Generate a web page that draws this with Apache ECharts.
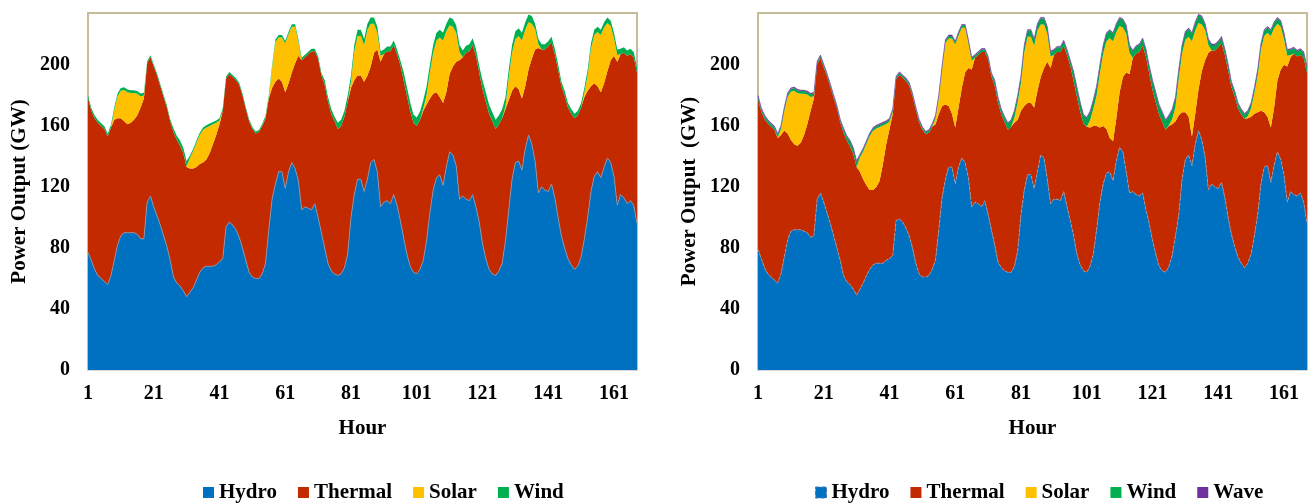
<!DOCTYPE html>
<html>
<head>
<meta charset="utf-8">
<script src="https://cdn.jsdelivr.net/npm/echarts@6/dist/echarts.min.js"></script>
<style>
html,body{margin:0;padding:0;background:#fff;}
#chart{width:1311px;height:503px;}
</style>
</head>
<body>
<div id="chart"></div>
<script>
// Hour categories 1..168
const hours = [];
for (let i = 1; i <= 168; i++) hours.push(String(i));

const yTicks = [0, 40, 80, 120, 160, 200];

// ---------- Left panel ----------
const leftHydro = [
77,72,66,62,60,58,56,62,72,82,88,90,90,90,90,89,86,86,110,114,107,101,95,88,
81,72,61,57,55,52,48,51,54,59,64,67,68,68,68,69,71,73,94,97,95,92,87,80,
72,64,61,60,60,63,70,92,112,122,130,130,119,130,136,132,124,105,107,106,105,109,100,90,
80,70,65,63,62,63,67,76,100,115,125,125,117,125,136,138,130,107,110,111,109,115,108,98,
87,76,68,64,63,66,72,85,103,118,126,128,121,133,143,141,134,112,114,112,111,115,107,97,
83,73,66,63,62,65,70,85,105,125,136,137,131,145,154,148,137,116,120,118,117,122,113,100,
88,80,73,69,66,68,74,86,100,117,127,130,126,133,139,136,127,108,115,113,109,111,108,96
];
const leftThermal = [
101,98,99,100,100,100,97,97,92,83,77,73,71,72,74,78,86,92,91,91,92,92,91,91,
91,91,95,94,92,90,85,81,78,74,71,69,70,74,80,85,90,97,97,97,97,98,100,100,
99,99,97,95,96,97,95,86,73,67,61,59,63,58,59,69,82,98,98,101,104,100,104,103,
107,106,103,100,96,97,99,100,85,75,68,68,72,68,63,70,80,95,97,98,100,98,99,102,
103,104,102,98,97,98,98,89,75,63,56,51,54,49,51,58,68,91,91,96,98,98,99,98,
101,103,102,100,96,96,95,86,72,58,50,47,47,41,43,56,73,95,90,92,95,93,94,97,
98,100,99,99,99,99,98,93,83,69,61,56,56,55,57,67,79,94,92,95,97,96,97,99
];
const leftSolar = [
0,0,0,0,0,0,0,0,6.5,14.5,18,20.5,21,19.5,17.5,14,7.5,2,0,0,0,0,0,0,
0,0,0,0,0,0,0.5,7,11.5,16,19,21.5,21,18,13,8,2.5,0,0,0,0,0,0,0,
0,0,0,0,0,0,0.5,1,13,26,27,29,32,32,30,24,9,0,0,0,0,0,0,0,
0,0,0,0,0,0,0,0,4,19,26,26,24,30,28,19,11,4,0,0,0,0,0,0,
0,0,0,0,0,0,1.5,6.5,17,27,34,39,41,40,32,26,19,5.5,0,0,0,0,0,0,
0,0,0,0,0,0,0,2,15,25,31,35,38,37,31,23,13.5,2.5,0,0,0,0,0,0,
0,0,0,0,0,0,0,3,10.5,24.5,31.5,35.5,37.5,36.5,31.5,22.5,11.5,4.5,0,0,0,0,0,0
];
const leftWind = [
1.8,1.8,1.9,1.9,1.8,1.8,1.8,1.7,1.7,1.8,1.8,1.9,1.9,1.8,1.8,1.8,1.8,1.8,1.3,1.3,1.3,1.3,1.3,1.3,
1.3,1.3,2.5,2.5,3.5,3.5,3.5,1.5,1.5,1.5,1.5,1.5,1.5,1.5,1.5,1.5,1.5,1.5,1.3,1.3,1.3,1.3,1.3,1.3,
1.3,1.3,1.3,1.3,1.3,1.3,1.3,1.3,1.6,1.6,1.6,1.6,1.6,1.6,1.6,1.6,1.6,1.6,1.6,1.6,1.6,1.6,1.6,1.6,
3,3,3,3,4,4,4,4,4,4,4,4,4,4,4,4,4,3,3,3,3,3,3,3,
5.5,5.5,5.5,5.5,5.5,5.5,5.5,5.5,5,5,5,5,5,5,5,5,5,4.5,4.5,4.5,4.5,4.5,4.5,4.5,
6,6,6,6,6,6,6,6,5,5,5,5,5,5,5,5,3.5,3.5,3.5,3.5,3.5,3.5,3.5,3.5,
3,3,3,3,3,3,3,3,3.5,3.5,3.5,3.5,3.5,3.5,3.5,3.5,3.5,3.5,3.5,3.5,3.5,3.5,3.5,3.5
];

// ---------- Right panel ----------
const rightHydro = [
79,73,67,63,61,59,57,63,74,85,91,92,92,92,91,90,87,88,112,116,110,103,96,88,
80,72,62,58,56,53,49,53,57,62,66,69,70,70,70,72,73,75,98,99,97,93,88,80,
70,63,61,61,62,66,72,92,113,125,133,133,122,133,139,136,126,107,110,109,107,111,102,92,
82,71,67,65,64,64,68,78,102,118,128,128,119,130,141,139,125,109,112,112,111,117,107,98,
88,76,69,65,64,68,76,92,110,122,129,130,124,137,146,143,130,116,117,115,114,116,105,96,
85,76,68,65,64,68,75,88,102,125,138,141,134,148,157,151,140,118,122,120,119,123,113,100,
89,81,74,70,67,70,76,88,102,122,133,134,123,134,143,138,128,110,117,115,114,116,110,96
];
const rightThermal = [
98.5,96.5,97.5,98.5,98.5,98.5,95,91,83,70,60,56,55,57,63,71,83,90,88.5,88.5,88.5,89.5,89.5,90.5,
91.5,90.5,93.5,92.5,90.5,88.5,84,77,68,59,52,49,50,54,65,76,85,93,92.5,94.5,94.5,96.5,98.5,99.5,
100.5,99.5,96.5,93.5,93.5,93.5,89,76,60,49,40,35,37,39,46,59,72,90,94.5,97.5,101.5,97.5,101.5,100.5,
104.5,104.5,100.5,97.5,93.5,95.5,94,86,68,55,47,47,53,53,51,59,77,89,94.5,96.5,97.5,95.5,99.5,101.5,
101.5,103.5,100.5,96.5,95.5,91,84,68,49,38,29,22,26,28,36,49,65,78,87.5,92.5,94.5,96.5,100.5,98.5,
98.5,99.5,99.5,97.5,93.5,92,86,75,65,44,31,25,19,20,27,45,63,90,87.5,89.5,92.5,91.5,93.5,96.5,
96.5,98.5,97.5,97.5,97.5,95,90,80,67,48,36,32,36,38,47,59,72,89,88,92.5,91.5,90.5,94.5,98.5
];
const rightSolar = [
0,0,0,0,0,0,0.5,4,13,24,31.5,35,34.5,32,27,19.5,9,1.5,0,0,0,0,0,0,
0,0,0,0,0,0,0,9.3,18.3,27.3,35.3,38.8,38.3,35.3,25.3,13.3,4.8,1.3,0,0,0,0,0,0,
0,0,0,0,0,0,4,10.5,24.3,40.3,44.3,49.3,54.3,47.3,39.3,29.3,16.3,5.8,0,0,0,0,0,0,
0,0,0,0,0,0,3.5,11.5,18.5,35.5,43.5,43.5,40.5,39.5,34.5,28.5,18.5,7.5,0,0,0,0,0,0,
0,0,0,0,0,4.5,11,20,35.5,47.5,57.5,65.5,65.5,56.5,43.5,32.5,25.5,14,0,0,0,0,0,0,
0,0,0,0,0,0.5,3.5,9.5,24.5,38.5,47.5,52.5,62.5,54.5,43.5,30.5,20,5,0,0,0,0,0,0,
0,0,0,0,0,1.5,5.5,13.5,24,40,50,55,60,52,37,28,17,7,1.5,0,0,0,0,0
];
const rightWind = [
1.8,1.8,1.9,1.9,1.8,1.8,1.8,1.7,1.7,1.8,1.8,1.9,1.9,1.8,1.8,1.8,1.8,1.8,1.3,1.3,1.3,1.3,1.3,1.3,
1.3,1.3,2.5,2.5,3.5,3.5,3.5,1.5,1.5,1.5,1.5,1.5,1.5,1.5,1.5,1.5,1.5,1.5,1.3,1.3,1.3,1.3,1.3,1.3,
1.3,1.3,1.3,1.3,1.3,1.3,1.3,1.3,1.6,1.6,1.6,1.6,1.6,1.6,1.6,1.6,1.6,1.6,1.6,1.6,1.6,1.6,1.6,1.6,
3,3,3,3,4,4,4,4,4,4,4,4,4,4,4,4,4,3,3,3,3,3,3,3,
5.5,5.5,5.5,5.5,5.5,5.5,5.5,5.5,5,5,5,5,5,5,5,5,5,4.5,4.5,4.5,4.5,4.5,4.5,4.5,
6,6,6,6,6,6,6,6,5,5,5,5,5,5,5,5,3.5,3.5,3.5,3.5,3.5,3.5,3.5,3.5,
3,3,3,3,3,3,3,3,3.5,3.5,3.5,3.5,3.5,3.5,3.5,3.5,3.5,3.5,3.5,3.5,3.5,3.5,3.5,3.5
];
const rightWave = [
0.6,0.6,0.6,0.6,0.6,0.6,0.6,0.6,0.6,0.6,0.6,0.6,0.6,0.6,0.6,0.6,0.6,0.6,0.6,0.6,0.6,0.6,0.6,0.6,
0.6,0.6,0.6,0.6,0.6,0.6,0.6,0.6,0.6,0.6,0.6,0.6,0.6,0.6,0.6,0.6,0.6,0.6,0.6,0.6,0.6,0.6,0.6,0.6,
0.6,0.6,0.6,0.6,0.6,0.6,0.6,0.6,0.6,0.6,0.6,0.6,0.6,0.6,0.6,0.6,0.6,0.6,0.6,0.6,0.6,0.6,0.6,0.6,
0.6,0.6,0.6,0.6,0.6,0.6,0.6,0.6,0.6,0.6,0.6,0.6,0.6,0.6,0.6,0.6,0.6,0.6,0.6,0.6,0.6,0.6,0.6,0.6,
0.6,0.6,0.6,0.6,0.6,0.6,0.6,0.6,0.6,0.6,0.6,0.6,0.6,0.6,0.6,0.6,0.6,0.6,0.6,0.6,0.6,0.6,0.6,0.6,
0.6,0.6,0.6,0.6,0.6,0.6,0.6,0.6,0.6,0.6,0.6,0.6,0.6,0.6,0.6,0.6,0.6,0.6,0.6,0.6,0.6,0.6,0.6,0.6,
0.6,0.6,0.6,0.6,0.6,0.6,0.6,0.6,0.6,0.6,0.6,0.6,0.6,0.6,0.6,0.6,0.6,0.6,0.6,0.6,0.6,0.6,0.6,0.6
];

const COLORS = {Hydro:'#0070C0', Thermal:'#C42A00', Solar:'#FFC000', Wind:'#00B050', Wave:'#7030A0'};
const FONT = "'Liberation Serif','Times New Roman',serif";

function areaSeries(name, data, panel, extraLine, colorOverride) {
  const c = colorOverride || COLORS[name];
  return {
    name: name, type: 'line', data: data,
    xAxisIndex: panel, yAxisIndex: panel, stack: 'S' + panel,
    symbol: 'none', smooth: false, silent: true,
    itemStyle: {color: c},
    lineStyle: extraLine || {width: 0, color: c},
    areaStyle: {color: c, opacity: 1}
  };
}

function xAxisCfg(i) {
  return {
    gridIndex: i, type: 'category', data: hours, boundaryGap: false,
    axisTick: {show: false},
    axisLine: {show: true, lineStyle: {color: '#D9D9D9', width: 2}},
    axisLabel: {interval: 19, color: '#000', fontFamily: FONT, fontWeight: 'bold', fontSize: 20, margin: 14},
    splitLine: {show: false},
    name: 'Hour', nameLocation: 'middle', nameGap: 48,
    nameTextStyle: {color: '#000', fontFamily: FONT, fontWeight: 'bold', fontSize: 21}
  };
}
function yAxisCfg(i, title) {
  return {
    gridIndex: i, type: 'value', min: 0, max: 234, interval: 40,
    axisLine: {show: false}, axisTick: {show: false}, splitLine: {show: false},
    axisLabel: {showMaxLabel: false, color: '#000', fontFamily: FONT, fontWeight: 'bold', fontSize: 20, margin: 18,
      formatter: function (v) { return yTicks.indexOf(v) >= 0 ? String(v) : ''; }},
    name: title, nameLocation: 'middle', nameGap: 58, nameRotate: 90,
    nameTextStyle: {color: '#000', fontFamily: FONT, fontWeight: 'bold', fontSize: 21}
  };
}
const legendText = {color: '#000', fontFamily: FONT, fontWeight: 'bold', fontSize: 21};

const option = {
  animation: false,
  backgroundColor: '#fff',
  grid: [
    {left: 88, top: 13, width: 549, height: 357, show: true, borderColor: '#C4BD97', borderWidth: 2, backgroundColor: '#fff'},
    {left: 758, top: 13, width: 549, height: 357, show: true, borderColor: '#C4BD97', borderWidth: 2, backgroundColor: '#fff'}
  ],
  legend: [
    {left: 198, top: 477, icon: 'rect', itemWidth: 11, itemHeight: 11, itemGap: 21, textStyle: legendText,
      data: ['Hydro', 'Thermal', 'Solar', 'Wind']},
    {left: 810, top: 477, icon: 'rect', itemWidth: 11, itemHeight: 11, itemGap: 21, textStyle: legendText,
      data: [{name: 'Hydro', itemStyle: {borderType: 'dashed', borderColor: '#4a78b8', borderWidth: 1}}, 'Thermal', 'Solar', 'Wind', 'Wave']}
  ],
  xAxis: [xAxisCfg(0), xAxisCfg(1)],
  yAxis: [yAxisCfg(0, 'Power Output (GW)'), yAxisCfg(1, 'Power Output  (GW)')],
  series: [
    areaSeries('Hydro', leftHydro, 0, {width: 0.8, color: '#8C9BB0'}),
    areaSeries('Thermal', leftThermal, 0),
    areaSeries('Solar', leftSolar, 0),
    areaSeries('Wind', leftWind, 0),
    areaSeries('Hydro', rightHydro, 1, {width: 0.8, color: '#9AA6B8', type: 'dashed'}),
    areaSeries('Thermal', rightThermal, 1),
    areaSeries('Solar', rightSolar, 1),
    areaSeries('Wind', rightWind, 1, null, '#00A550'),
    areaSeries('Wave', rightWave, 1, {width: 0.6, color: '#7030A0'})
  ]
};

const chart = echarts.init(document.getElementById('chart'), null, {renderer: 'canvas'});
chart.setOption(option);
</script>
</body>
</html>
